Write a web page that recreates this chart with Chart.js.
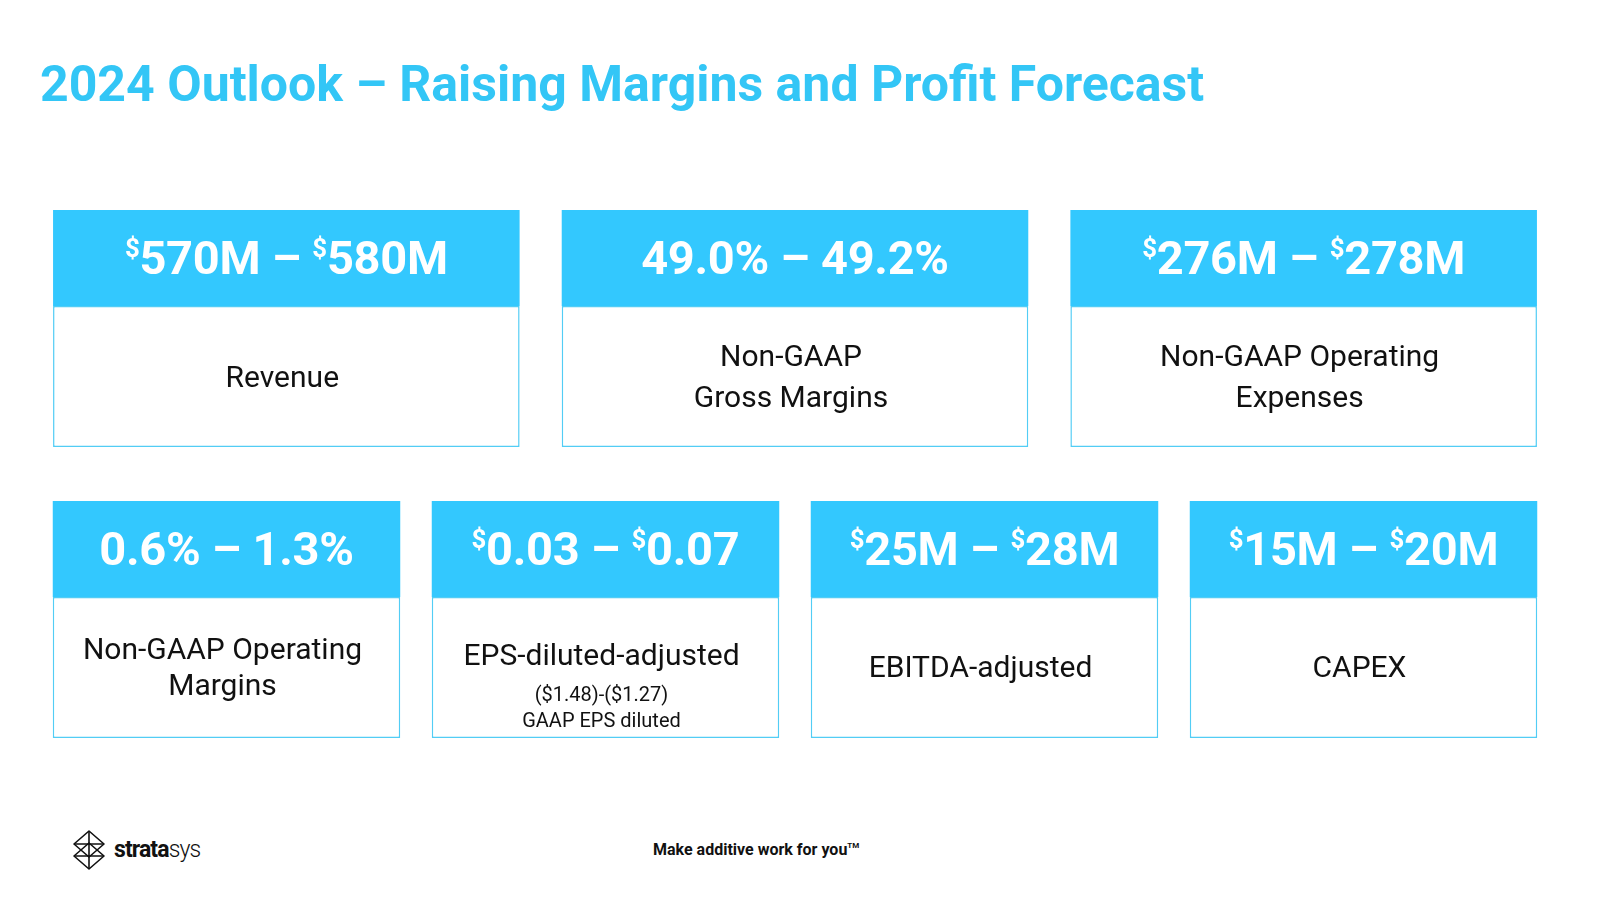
<!DOCTYPE html>
<html>
<head>
<meta charset="utf-8">
<script src="https://cdn.jsdelivr.net/npm/chart.js@4.4.1/dist/chart.umd.min.js"></script>
<style>
    html, body { margin: 0; padding: 0; background: #fff; }
    body { width: 1600px; height: 900px; position: relative; overflow: hidden; font-family: Roboto, 'Noto Sans', sans-serif; }
    .title { position: absolute; left: 40px; top: 58px; line-height: 52px; font-size: 50px; font-weight: 700; color: #33c6f6; white-space: nowrap; }
    .row { position: absolute; }
    .head, .body { position: absolute; display: flex; flex-direction: column; align-items: center; justify-content: center; text-align: center; box-sizing: border-box; }
    .head { color: #fff; font-weight: 700; font-size: 47px; letter-spacing: -0.3px; line-height: 1; white-space: nowrap; }
    .head .cur { font-size: 0.55em; vertical-align: 0.66em; line-height: 0; }
    .body { color: #111; font-size: 30px; font-weight: 400; padding-right: 8px; }
    .body .note { font-size: 20px; line-height: 26px; }
    .footer { position: absolute; left: 653px; top: 841px; font-size: 16px; line-height: 18px; font-weight: 700; color: #111; }
    .footer sup { font-size: 8px; vertical-align: 7px; line-height: 0; }
    .logo { position: absolute; left: 72px; top: 830px; }
    .brand { position: absolute; left: 114px; top: 838px; font-size: 23px; line-height: 24px; color: #111; letter-spacing: -0.9px; }
    .brand b { font-weight: 700; }
    .brand span { font-weight: 300; }
</style>
</head>
<body>
<div class="title">2024 Outlook – Raising Margins and Profit Forecast</div>

<div class="row" id="rowOne" style="left:32px; top:210px; width:1526px; height:237px;"><canvas id="rowOneChart"></canvas></div>
<div class="row" id="rowTwo" style="left:37px; top:501px; width:1516px; height:237px;"><canvas id="rowTwoChart"></canvas></div>

<svg class="logo" width="34" height="40" viewBox="0 0 34 40">
    <g fill="none" stroke="#111" stroke-width="1.6" stroke-linejoin="round">
        <path d="M17 1 L2 14 L17 27 L32 14 Z"/>
        <path d="M17 13 L2 26 L17 39 L32 26 Z"/>
        <path d="M17 1 V39"/>
        <path d="M2 14 H32 M2 26 H32"/>
    </g>
</svg>
<div class="brand"><b>strata</b><span>sys</span></div>
<div class="footer">Make additive work for you<sup>TM</sup></div>

<script>
// Ligne du haut
const rowOneLow = ['$570M', '49.0%', '$276M'];
const rowOneHigh = ['$580M', '49.2%', '$278M'];
const rowOneLabels = [['Revenue'], ['Non-GAAP', 'Gross Margins'], ['Non-GAAP Operating', 'Expenses']];
const rowOneNotes = [[], [], []];

// Ligne du bas
const rowTwoLow = ['0.6%', '$0.03', '$25M', '$15M'];
const rowTwoHigh = ['1.3%', '$0.07', '$28M', '$20M'];
const rowTwoLabels = [['Non-GAAP Operating', 'Margins'], ['EPS-diluted-adjusted'], ['EBITDA-adjusted'], ['CAPEX']];
const rowTwoNotes = [[], ['($1.48)-($1.27)', 'GAAP EPS diluted'], [], []];

const blue = '#33c8fe';
const borderBlue = '#52cdf5';
const headerShare = 0.405;

function money(txt) {
    return txt.startsWith('$') ? '<span class="cur">$</span>' + txt.slice(1) : txt;
}

function buildRow(canvasId, holderId, lows, highs, labels, notes, barPct, lineH) {
    const split = 1 - headerShare;
    const chart = new Chart(document.getElementById(canvasId), {
        type: 'bar',
        data: {
            labels: labels.map(l => l.join(' ')),
            datasets: [
                {
                    label: 'body',
                    data: labels.map(() => [0, split]),
                    backgroundColor: '#ffffff',
                    borderColor: borderBlue,
                    borderWidth: 1.5,
                    borderSkipped: false
                },
                {
                    label: 'head',
                    data: labels.map(() => [split, 1]),
                    backgroundColor: blue,
                    borderWidth: 0
                }
            ]
        },
        options: {
            responsive: true,
            maintainAspectRatio: false,
            animation: false,
            events: [],
            layout: { padding: 0 },
            datasets: { bar: { grouped: false, categoryPercentage: 1, barPercentage: barPct } },
            plugins: { legend: { display: false }, tooltip: { enabled: false } },
            scales: {
                x: { display: false, offset: true },
                y: { display: false, min: 0, max: 1 }
            }
        }
    });

    // Textes posés sur les barres
    const holder = document.getElementById(holderId);
    const heads = chart.getDatasetMeta(1).data;
    const bodies = chart.getDatasetMeta(0).data;
    heads.forEach((bar, i) => {
        const p = bar.getProps(['x', 'y', 'base', 'width'], true);
        const el = document.createElement('div');
        el.className = 'head';
        el.style.left = (p.x - p.width / 2) + 'px';
        el.style.width = p.width + 'px';
        el.style.top = p.y + 'px';
        el.style.height = (p.base - p.y) + 'px';
        el.innerHTML = '<div>' + money(lows[i]) + ' – ' + money(highs[i]) + '</div>';
        holder.appendChild(el);
    });
    bodies.forEach((bar, i) => {
        const p = bar.getProps(['x', 'y', 'base', 'width'], true);
        const el = document.createElement('div');
        el.className = 'body';
        el.style.left = (p.x - p.width / 2) + 'px';
        el.style.width = p.width + 'px';
        el.style.top = p.y + 'px';
        el.style.height = (p.base - p.y) + 'px';
        let html = labels[i].map(t => '<div style="line-height:' + lineH + 'px">' + t + '</div>').join('');
        if (notes[i].length) {
            el.style.paddingTop = '36px';
            html += '<div style="height:8px"></div>' + notes[i].map(t => '<div class="note">' + t + '</div>').join('');
        }
        el.innerHTML = html;
        holder.appendChild(el);
    });
}

document.fonts.load('700 47px Roboto').then(() => {
    buildRow('rowOneChart', 'rowOne', rowOneLow, rowOneHigh, rowOneLabels, rowOneNotes, 466.5 / 508.6, 41);
    buildRow('rowTwoChart', 'rowTwo', rowTwoLow, rowTwoHigh, rowTwoLabels, rowTwoNotes, 347.4 / 378.9, 36);
});
</script>
</body>
</html>
